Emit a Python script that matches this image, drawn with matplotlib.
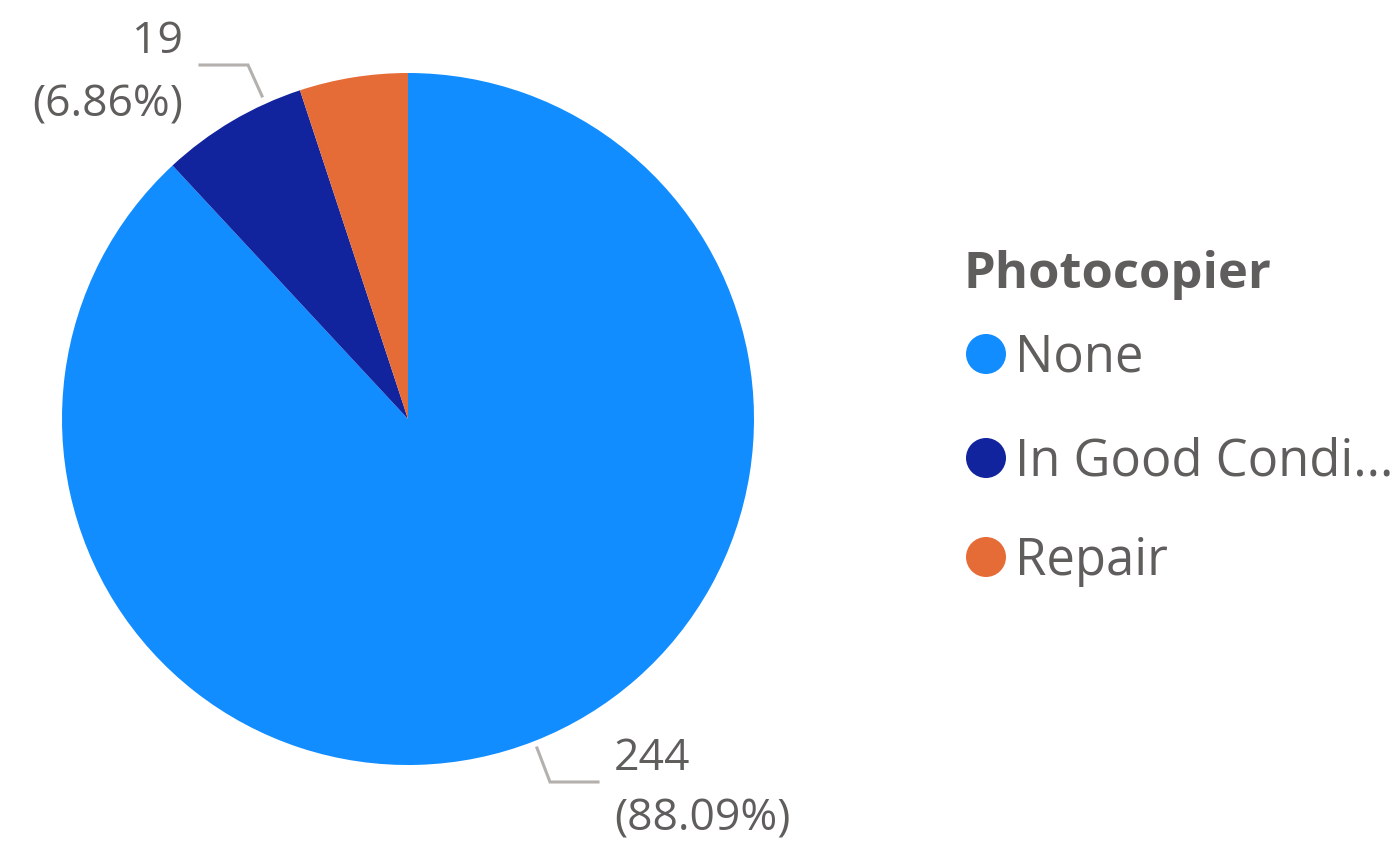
import matplotlib
matplotlib.use("Agg")
import matplotlib.pyplot as plt
from matplotlib.patches import Circle

plt.rcParams['font.family'] = ['Open Sans', 'DejaVu Sans']

# ---- data ----
categories = ["None", "In Good Condition", "Repair"]
legend_labels = ["None", "In Good Condi...", "Repair"]
values = [244, 19, 14]
colors = ["#118DFF", "#12239E", "#E66C37"]
legend_title = "Photocopier"

TEXT = "#605E5C"
LEADER = "#B3B0AD"

W, H = 1399, 842
fig = plt.figure(figsize=(W / 100, H / 100), dpi=100)
ax = fig.add_axes([0, 0, 1, 1])
ax.set_xlim(0, W)
ax.set_ylim(H, 0)
ax.set_aspect('equal')
ax.axis('off')

cx, cy, r = 408, 419, 346
ax.pie(values, colors=colors, startangle=-90, counterclock=True,
       center=(cx, cy), radius=r, frame=True,
       wedgeprops=dict(linewidth=0))
ax.set_xlim(0, W)
ax.set_ylim(H, 0)
ax.axis('off')

total = sum(values)
pcts = [v / total * 100 for v in values]

fs_lab = 32
# label for None (index 0)
ax.plot([537, 550, 598], [748, 782, 782], color=LEADER, lw=2.2, solid_joinstyle='miter')
ax.text(614, 770, f"{values[0]}", fontsize=fs_lab, color=TEXT, ha='left', va='baseline')
ax.text(614, 831, f"({pcts[0]:.2f}%)", fontsize=fs_lab, color=TEXT, ha='left', va='baseline')

# label for In Good Condition (index 1)
ax.plot([262, 248, 200], [96, 65, 65], color=LEADER, lw=2.2, solid_joinstyle='miter')
ax.text(183, 53, f"{values[1]}", fontsize=fs_lab, color=TEXT, ha='right', va='baseline')
ax.text(183, 117, f"({pcts[1]:.2f}%)", fontsize=fs_lab, color=TEXT, ha='right', va='baseline')

# legend
ax.text(963, 288, legend_title, fontsize=36.5, fontweight='bold', color=TEXT,
        ha='left', va='baseline')
ys = [372, 476, 575]
for lab, col, yb in zip(legend_labels, colors, ys):
    ax.add_patch(Circle((986, yb - 18), 20, color=col, lw=0))
    ax.text(1015, yb, lab, fontsize=36.5, color=TEXT, ha='left', va='baseline')

fig.savefig("out.png", dpi=100)
